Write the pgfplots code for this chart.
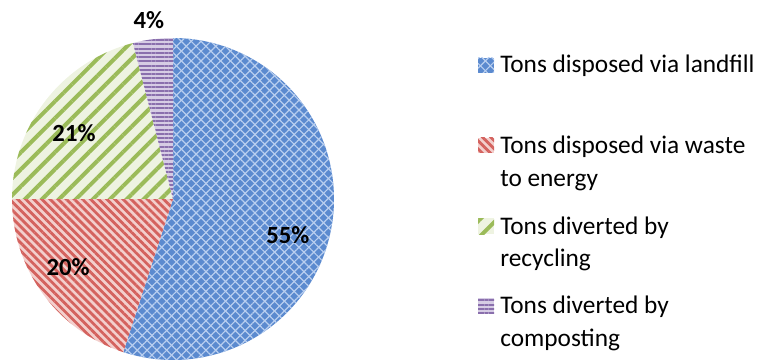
\documentclass[border=0pt]{standalone}
\usepackage{fontspec}
\setmainfont{Carlito}
\usepackage{pgfplots}
\pgfplotsset{compat=1.18}
\usetikzlibrary{patterns.meta}

\definecolor{bluebase}{HTML}{5B8ACF}
\definecolor{bluelight}{HTML}{B9CFF0}
\definecolor{redbase}{HTML}{F3CFCD}
\definecolor{redline}{HTML}{D4625E}
\definecolor{greenbase}{HTML}{EEF3E1}
\definecolor{greenline}{HTML}{9BBB59}
\definecolor{purplebase}{HTML}{D6CCE4}
\definecolor{purpleline}{HTML}{8A6FAD}

\tikzset{
  sBlue/.style={fill=bluebase,
    postaction={pattern={Lines[angle=45,distance=5.2pt,line width=0.9pt]}, pattern color=bluelight},
    postaction={pattern={Lines[angle=-45,distance=5.2pt,line width=0.9pt]}, pattern color=bluelight}},
  sRed/.style={fill=redbase, postaction={pattern={Lines[angle=-45,distance=4.3pt,line width=2.1pt]}, pattern color=redline}},
  sGreen/.style={fill=greenbase, postaction={pattern={Lines[angle=45,distance=9pt,line width=3pt]}, pattern color=greenline}},
  sPurple/.style={fill=purplebase, postaction={pattern={Lines[angle=0,distance=3.2pt,line width=1.5pt]}, pattern color=purpleline}},
}

% start (cumulative %), value (%), style
\newcommand\slice[3]{%
  \pgfmathsetmacro\sa{90-3.6*#1}%
  \pgfmathsetmacro\sb{90-3.6*(#1+#2)}%
  \addplot[#3, draw=none, domain=\sb:\sa, samples=120, variable=\t]
    ({cos(\t)},{sin(\t)}) -- (0,0) -- cycle;
}

\begin{document}
\begin{tikzpicture}
\path[use as bounding box] (0,0) rectangle (579pt,-270pt);
\begin{axis}[
  at={(129.75pt,-149.25pt)}, anchor=center,
  width=241.5pt, height=241.5pt, scale only axis,
  xmin=-1, xmax=1, ymin=-1, ymax=1,
  hide axis, clip=false,
]
\slice{0}{55}{sBlue}
\slice{55}{20}{sRed}
\slice{75}{21}{sGreen}
\slice{96}{4}{sPurple}
\begin{scope}[every node/.style={font=\fontsize{18.5}{22}\selectfont\bfseries, inner sep=0pt}]
\node at (0.714,-0.224) {55\%};
\node at (-0.652,-0.422) {20\%};
\node at (-0.615,0.410) {21\%};
\node at (-0.150,1.112) {4\%};
\end{scope}
\end{axis}
\begin{scope}[x=0.75pt,y=-0.75pt, every node/.style={font=\fontsize{19}{23}\selectfont, inner sep=0pt, anchor=base west}]
\path[sBlue] (478,58) rectangle (494,73);
\path[sRed] (478,138) rectangle (494,153);
\path[sGreen] (478,218) rectangle (494,234);
\path[sPurple] (478,298) rectangle (494,313);
\node at (500,73) {Tons disposed via landfill};
\node at (500,154) {Tons disposed via waste};
\node at (500,186) {to energy};
\node at (500,234) {Tons diverted by};
\node at (500,266) {recycling};
\node at (500,313) {Tons diverted by};
\node at (500,346) {composting};
\end{scope}
\end{tikzpicture}
\end{document}
